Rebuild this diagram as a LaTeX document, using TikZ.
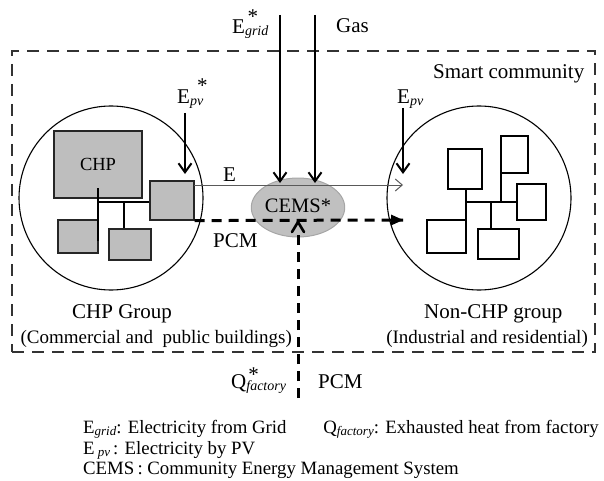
\documentclass[tikz,border=0pt]{standalone}
\usepackage{fontspec}
\setmainfont{Liberation Serif}
\usetikzlibrary{arrows.meta,shapes.geometric}
\newcommand\lsub[2][2pt]{\raisebox{-#1}{\fontsize{14}{14}\selectfont\itshape #2}}
\newcommand\ssub[2][2pt]{\raisebox{-#1}{\fontsize{13}{13}\selectfont\itshape #2}}
\newcommand\overstar[2]{\makebox[0pt][l]{\hspace{#1}\raisebox{#2}{*}}}
\definecolor{boxgray}{HTML}{BEBEBE}
\definecolor{cemsgray}{HTML}{C0C0C0}
\definecolor{cemsedge}{HTML}{A6A6A6}
\tikzset{
  main/.style={font=\fontsize{21}{25}\selectfont, inner sep=0pt},
  paren/.style={font=\fontsize{19}{23}\selectfont, inner sep=0pt},
  legend/.style={font=\fontsize{18.8}{22}\selectfont, inner sep=0pt, anchor=base west},
  gbox/.style={draw=black!85, fill=boxgray, line width=1.2pt, inner sep=0pt},
  wbox/.style={draw=black, fill=white, line width=1.2pt, inner sep=0pt},
  grp/.style={circle, draw=black, line width=1.1pt, minimum size=184pt, inner sep=0pt},
  cemsnode/.style={ellipse, fill=cemsgray, draw=cemsedge, line width=1pt, minimum width=88pt, minimum height=59pt, inner sep=0pt, font=\fontsize{20.5}{24}\selectfont},
  border/.style={draw=black!80, line width=1.4pt, dash pattern=on 12pt off 8pt, inner sep=0pt},
  flow/.style={line width=2pt, -{Straight Barb[length=9pt,width=13pt]}},
  elink/.style={line width=1pt, draw=black!65, -{Straight Barb[length=7pt,width=12pt]}},
  pcm/.style={line width=3pt, dash pattern=on 10pt off 7pt},
  link/.style={line width=1.2pt},
}
\begin{document}
\begin{tikzpicture}[x=1pt,y=-1pt]
\useasboundingbox (0,0) rectangle (604,481);
% community border
\node[border, minimum width=583pt, minimum height=301pt] (comm) at (303.5,201.5) {};
% groups
\node[grp] (chpg) at (111,198) {};
\node[grp] (nchpg) at (479,198) {};
% CEMS
\node[cemsnode] (cems) at (298,207.5) {\raisebox{3pt}{CEMS*}};
% CHP group buildings
\node[gbox, minimum width=88pt, minimum height=67pt, font=\fontsize{18.5}{22}\selectfont] (chp) at (98,164.5) {CHP};
\node[gbox, minimum width=44pt, minimum height=39pt] (b1) at (172,200.5) {};
\node[gbox, minimum width=40pt, minimum height=33pt] (b2) at (78,236.5) {};
\node[gbox, minimum width=42pt, minimum height=31pt] (b3) at (130,244.5) {};
\coordinate (l1top) at (98,188);
\coordinate (l1bot) at (98,241);
\coordinate (j1) at (98,202);
\coordinate (j2) at (124,202);
\draw[link] (l1top) -- (l1bot);
\draw[link] (j1) -- (j1 -| b1.west);
\draw[link] (j2) -- (j2 |- b3.north);
% non-CHP group buildings
\node[wbox, minimum width=34pt, minimum height=40pt] (ra) at (465,169) {};
\node[wbox, minimum width=27pt, minimum height=37pt] (rb) at (514.5,154.5) {};
\node[wbox, minimum width=29pt, minimum height=36pt] (rc) at (531.5,202) {};
\node[wbox, minimum width=39pt, minimum height=33pt] (rd) at (446.5,236.5) {};
\node[wbox, minimum width=41pt, minimum height=30pt] (re) at (498.5,244) {};
\coordinate (r1top) at (466,189);
\coordinate (r1bot) at (466,253);
\coordinate (rj1) at (466,202);
\coordinate (rj2) at (501,202);
\coordinate (rj3) at (491,202);
\draw[link] (r1top) -- (r1bot);
\draw[link] (rj1) -- (rj1 -| rc.west);
\draw[link] (rj2) -- (rj2 |- rb.south);
\draw[link] (rj3) -- (rj3 |- re.north);
% inputs
\coordinate (gridtop) at (280,15);
\coordinate (gridend) at (280,183);
\coordinate (gastop) at (315,15);
\coordinate (gasend) at (315,183);
\draw[flow] (gridtop) -- (gridend);
\draw[flow] (gastop) -- (gasend);
\coordinate (pvltop) at (185,113);
\coordinate (pvlend) at (185,174);
\coordinate (pvrtop) at (403,108);
\coordinate (pvrend) at (403,174);
\draw[flow] (pvltop) -- (pvlend);
\draw[flow] (pvrtop) -- (pvrend);
% E line
\coordinate (estart) at (194,185);
\coordinate (eend) at (403,185);
\draw[elink] (estart) -- (eend);
% PCM lines
\coordinate (pend) at (403,220);
\draw[pcm] (b1.south east) -- (pend);
\fill (pend) -- ++(-12,-5.5) -- ++(0,11) -- cycle;
\coordinate (qbot) at (298,398);
\coordinate (qend) at (298,222);
\draw[pcm] (qbot) -- (298,228);
\draw[line width=2.6pt, line cap=round] (292,232) -- (qend) -- (304,232);
% labels
\node[main, anchor=base west] (gridlbl) at (232,34) {E\overstar{2.5pt}{10.5pt}\lsub{grid}};
\node[main, anchor=base west] (gaslbl) at (336,33) {Gas};
\node[main, anchor=base west] (smart) at (433,79) {Smart community};
\node[main, anchor=base west] (pvl) at (177,104) {E\overstar{7pt}{11.5pt}\lsub{pv}};
\node[main, anchor=base west] (pvr) at (397,104) {E\lsub{pv}};
\node[main, anchor=base west] (elbl) at (223,182) {E};
\node[main, anchor=base west] (pcml) at (213,247) {PCM};
\node[main, anchor=base west] (chpglbl) at (72,318) {CHP Group};
\node[paren, anchor=base east] (chpgsub) at (292,343) {(Commercial and~ public buildings)};
\node[main, anchor=base west] (nchpglbl) at (424,318) {Non-CHP group};
\node[paren, anchor=base east] (nchpgsub) at (588,343) {(Industrial and residential)};
\node[main, anchor=base west] (qlbl) at (231,388) {Q\overstar{2pt}{7pt}\lsub{factory}};
\node[main, anchor=base west] (pcmb) at (318,388) {PCM};
% legend
\node[legend] (leg1) at (83,433) {E\ssub{grid}: Electricity from Grid};
\node[legend] (leg2) at (83,454) {E\,\ssub{pv}\,: Electricity by PV};
\node[legend] (leg3) at (83,474) {CEMS\,: Community Energy Management System};
\node[legend, anchor=base east] (leg4) at (599,433) {Q\ssub{factory}: Exhausted heat from factory};
\end{tikzpicture}
\end{document}
